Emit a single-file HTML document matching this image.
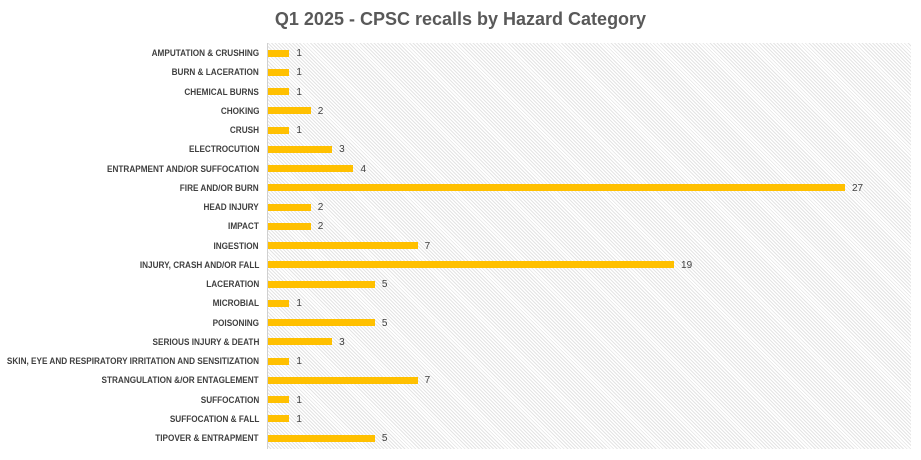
<!DOCTYPE html>
<html><head><style>
body{margin:0;width:921px;height:460px;background:#fff;position:relative;overflow:hidden;font-family:"Liberation Sans",sans-serif}
.t{position:absolute;top:9px;left:0;width:921px;text-align:center;font-size:18px;font-weight:bold;color:#595959}
.plot{position:absolute;left:267px;top:43px;width:643px;height:406px;background:repeating-linear-gradient(45deg,#fff 0 1.5px,#e4e4e4 1.5px 2.5px);border-left:1px solid #d0d0d0}
.l{position:absolute;right:662px;font-size:9px;font-weight:bold;color:#404040;white-space:nowrap;line-height:12px;transform:scaleX(0.91);transform-origin:right center}
.b{position:absolute;left:268px;height:7px;background:#FFC000}
.v{position:absolute;font-size:10px;color:#404040;line-height:12px}
</style></head><body>
<div class="t">Q1 2025 - CPSC recalls by Hazard Category</div>
<div class="plot"></div>
<div id="c"></div>
<script>
var d=[["AMPUTATION & CRUSHING",1],["BURN & LACERATION",1],["CHEMICAL BURNS",1],["CHOKING",2],["CRUSH",1],["ELECTROCUTION",3],["ENTRAPMENT AND/OR SUFFOCATION",4],["FIRE AND/OR BURN",27],["HEAD INJURY",2],["IMPACT",2],["INGESTION",7],["INJURY, CRASH AND/OR FALL",19],["LACERATION",5],["MICROBIAL",1],["POISONING",5],["SERIOUS INJURY & DEATH",3],["SKIN, EYE AND RESPIRATORY IRRITATION AND SENSITIZATION",1],["STRANGULATION &/OR ENTAGLEMENT",7],["SUFFOCATION",1],["SUFFOCATION & FALL",1],["TIPOVER & ENTRAPMENT",5]];
var h="";d.forEach(function(r,i){var y=53+i*19.25;var w=r[1]*21.37;
h+='<div class="l" style="top:'+(y-6)+'px">'+r[0].replace(/&/g,'&amp;')+'</div>';
h+='<div class="b" style="top:'+(y-3.5)+'px;width:'+w+'px"></div>';
h+='<div class="v" style="top:'+(y-5)+'px;left:'+(268+w+7)+'px">'+r[1]+'</div>';});
document.getElementById('c').innerHTML=h;
</script>
</body></html>
